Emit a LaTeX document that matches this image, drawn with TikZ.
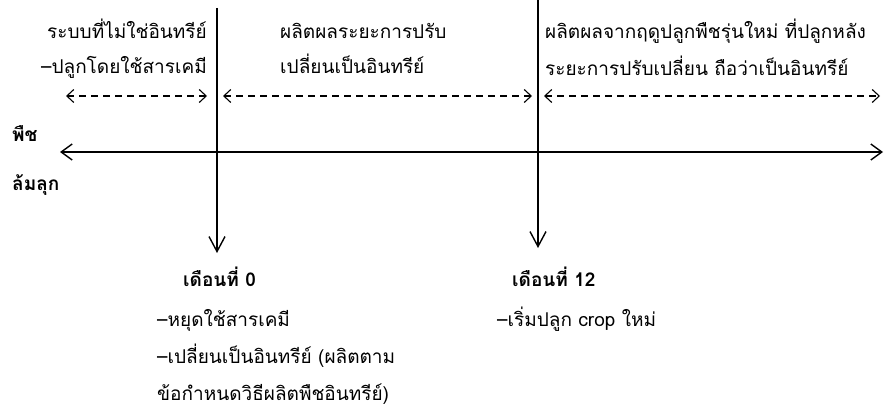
\documentclass[tikz,border=0pt]{standalone}
\usepackage{fontspec}
\setmainfont[Script=Thai]{Loma}
\usetikzlibrary{arrows.meta}
\tikzset{
  txt/.style={inner sep=0pt, font=\fontsize{19}{22}\selectfont},
  btxt/.style={txt, font=\fontsize{19}{22}\selectfont\bfseries},
  axis/.style={line width=1.4pt, {Straight Barb[length=11pt,width=16pt,line width=1.4pt]}-{Straight Barb[length=11pt,width=16pt,line width=1.4pt]}},
  period/.style={line width=1.1pt, dash pattern=on 7pt off 5pt, {Straight Barb[length=7pt,width=13pt,line width=1.1pt]}-{Straight Barb[length=7pt,width=13pt,line width=1.1pt]}},
  mark0/.style={line width=1.4pt, -{Straight Barb[length=15pt,width=16pt,line width=1.4pt]}}
}
\begin{document}
\begin{tikzpicture}[x=1pt,y=-1pt]
\useasboundingbox (0,0) rectangle (885,412);
% vertical marks
\coordinate (v0t) at (217,8);
\coordinate (v0b) at (217,253);
\coordinate (v12t) at (538,0);
\coordinate (v12b) at (538,248);
\draw[mark0] (v0t) -- (v0b);
\draw[mark0] (v12t) -- (v12b);
% main axis
\coordinate (axl) at (60,152);
\coordinate (axr) at (883,152);
\draw[axis] (axl) -- (axr);
% period arrows
\coordinate (p1l) at (66,96);
\coordinate (p1r) at (207,96);
\coordinate (p2l) at (223,96);
\coordinate (p2r) at (532,96);
\coordinate (p3l) at (544,96);
\coordinate (p3r) at (880,96);
\draw[period] (p1l) -- (p1r);
\draw[period] (p2l) -- (p2r);
\draw[period] (p3l) -- (p3r);
% top texts
\node[txt, anchor=base east] (t1a) at (207,38) {ระบบที่ไม่ใช่อินทรีย์};
\node[txt, anchor=base east] (t1b) at (207,74) {–ปลูกโดยใช้สารเคมี};
\node[txt, anchor=base west] (t2a) at (280,38) {ผลิตผลระยะการปรับ};
\node[txt, anchor=base west] (t2b) at (280,74) {เปลี่ยนเป็นอินทรีย์};
\node[txt, anchor=base west] (t3a) at (545,38) {ผลิตผลจากฤดูปลูกพืชรุ่นใหม่ ที่ปลูกหลัง};
\node[txt, anchor=base west] (t3b) at (545,75) {ระยะการปรับเปลี่ยน ถือว่าเป็นอินทรีย์};
% left label
\node[btxt, anchor=base west] (l1) at (12,141) {พืช};
\node[btxt, anchor=base west] (l2) at (12,190) {ล้มลุก};
% month 0
\node[btxt, anchor=base west] (m0) at (183,286) {เดือนที่ 0};
\node[txt, anchor=base west] (m0a) at (157,326) {–หยุดใช้สารเคมี};
\node[txt, anchor=base west] (m0b) at (157,363) {–เปลี่ยนเป็นอินทรีย์ (ผลิตตาม};
\node[txt, anchor=base west] (m0c) at (157,400) {ข้อกำหนดวิธีผลิตพืชอินทรีย์)};
% month 12
\node[btxt, anchor=base west] (m12) at (512,286) {เดือนที่ 12};
\node[txt, anchor=base west] (m12a) at (497,326) {–เริ่มปลูก crop ใหม่};
\end{tikzpicture}
\end{document}
